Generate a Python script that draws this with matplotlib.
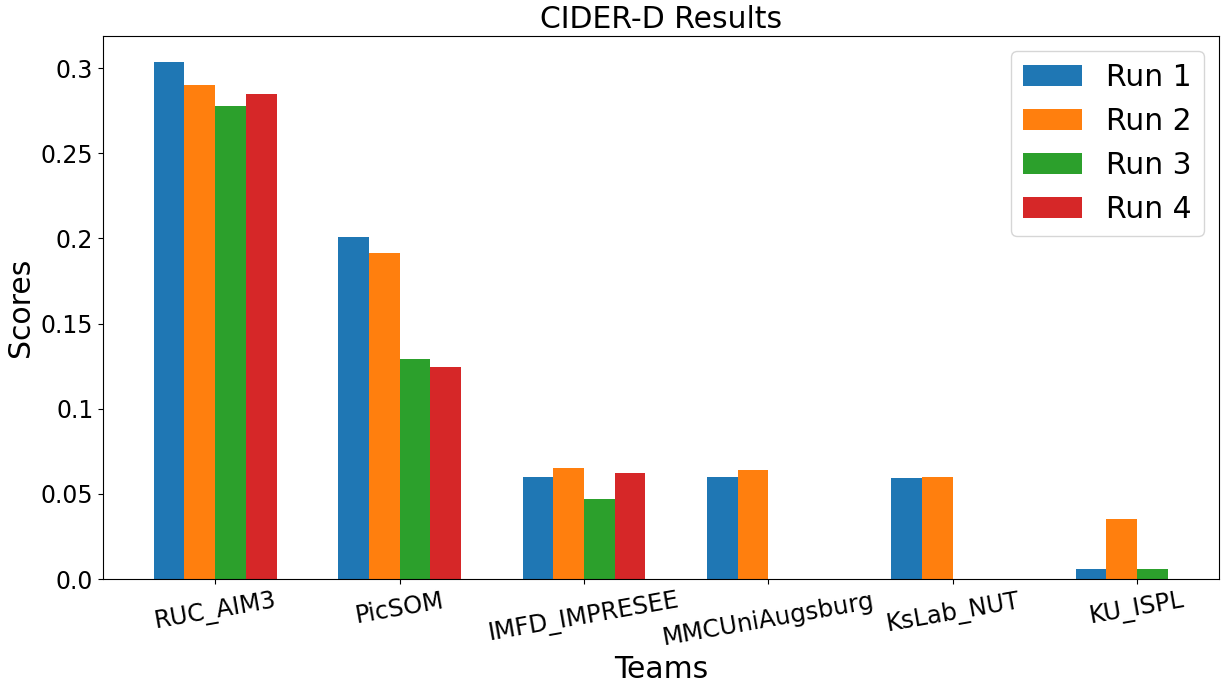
import numpy as np
import matplotlib
matplotlib.use('Agg')
import matplotlib.pyplot as plt
from matplotlib.ticker import FuncFormatter

# teams and scores per run (None = no submission)
teams = ['RUC_AIM3', 'PicSOM', 'IMFD_IMPRESEE', 'MMCUniAugsburg', 'KsLab_NUT', 'KU_ISPL']
run1 = [0.3035, 0.2009, 0.0600, 0.0600, 0.0594, 0.0060]
run2 = [0.2900, 0.1915, 0.0654, 0.0642, 0.0600, 0.0354]
run3 = [0.2777, 0.1293, 0.0471, None, None, 0.0060]
run4 = [0.2848, 0.1246, 0.0624, None, None, None]
runs = [run1, run2, run3, run4]
run_names = ['Run 1', 'Run 2', 'Run 3', 'Run 4']

width = 1 / 6
x = np.arange(len(teams))

fig, ax = plt.subplots(figsize=(12.26, 6.96), dpi=100)
fig.subplots_adjust(left=0.084, right=0.994, top=0.948, bottom=0.168)

for k, (vals, name) in enumerate(zip(runs, run_names)):
    idx = [i for i, v in enumerate(vals) if v is not None]
    hs = [vals[i] for i in idx]
    ax.bar(x[idx] + (k - 1.5) * width, hs, width, label=name)


# old-style tick labels: 0.0, 0.05, 0.1 ...
def fmt(v, pos):
    s = '%g' % round(v, 4)
    if '.' not in s:
        s += '.0'
    return s


ax.yaxis.set_major_formatter(FuncFormatter(fmt))
ax.set_xticks(x)
ax.set_xticklabels(teams, rotation=10, fontsize=17.5)
ax.tick_params(axis='y', labelsize=17)
ax.set_xlabel('Teams', fontsize=21.5)
ax.set_ylabel('Scores', fontsize=21.5)
ax.set_title('CIDER-D Results', fontsize=21.5)
ax.legend(fontsize=21.5)

plt.savefig('out.png')
